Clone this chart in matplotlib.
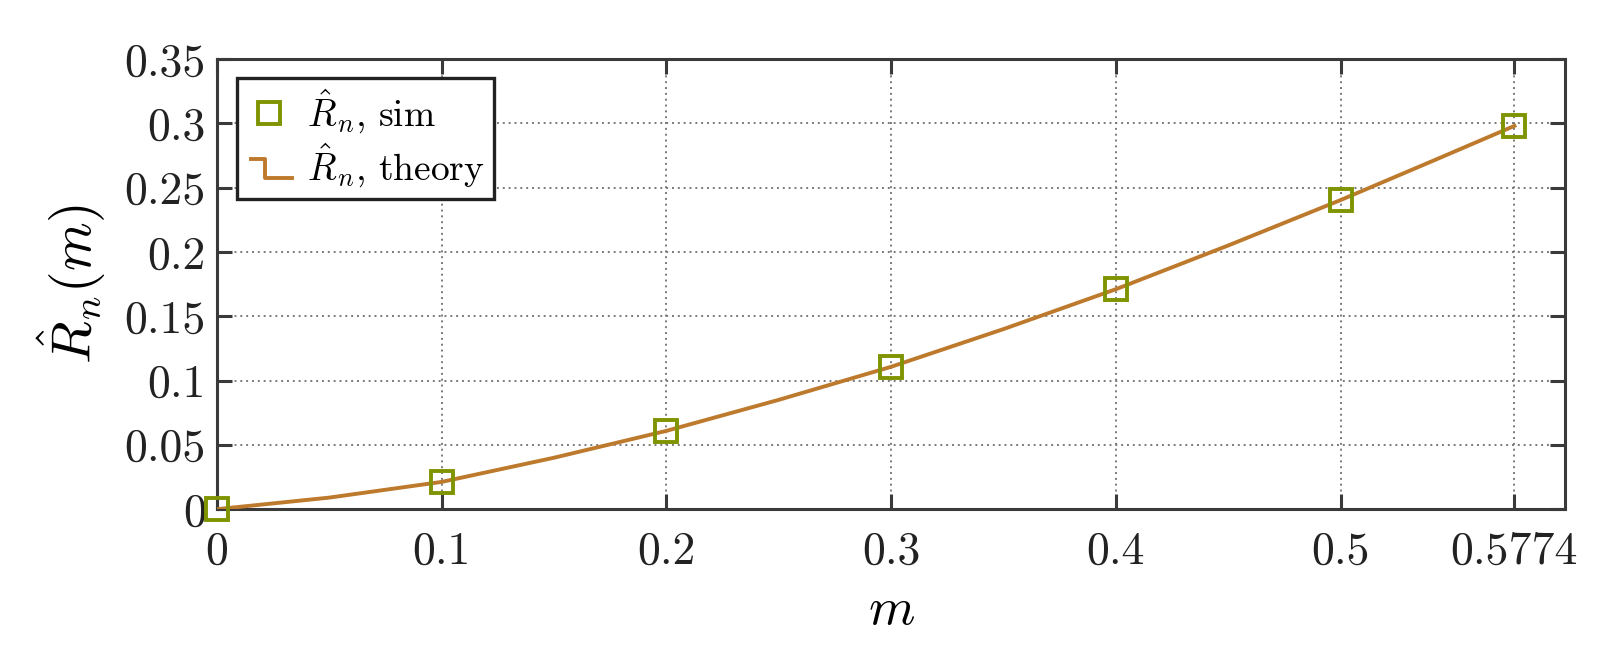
import matplotlib
matplotlib.use('Agg')
import matplotlib.pyplot as plt
import matplotlib as mpl
from matplotlib.legend_handler import HandlerBase
from matplotlib.lines import Line2D

# simulation points
m_sim = [0, 0.1, 0.2, 0.3, 0.4, 0.5, 0.5774]
r_sim = [0, 0.0212, 0.0609, 0.1107, 0.171, 0.2403, 0.298]

# theory curve
m_theory = [0, 0.05, 0.1, 0.15, 0.2, 0.25, 0.3, 0.35, 0.4, 0.45, 0.5, 0.54, 0.5774]
r_theory = [0, 0.009, 0.0212, 0.040, 0.0609, 0.085, 0.1107, 0.140, 0.171, 0.205, 0.2403, 0.270, 0.298]

xticks = [0, 0.1, 0.2, 0.3, 0.4, 0.5, 0.5774]
xticklabels = ['0', '0.1', '0.2', '0.3', '0.4', '0.5', '0.5774']
yticks = [0, 0.05, 0.1, 0.15, 0.2, 0.25, 0.3, 0.35]
yticklabels = ['0', '0.05', '0.1', '0.15', '0.2', '0.25', '0.3', '0.35']

c_sim = '#7f9400'
c_theory = '#bd7a2c'
c_axis = '#3a3a3a'


class HandlerStep(HandlerBase):
    # little step-shaped legend key, like the original
    def create_artists(self, legend, orig_handle, xdescent, ydescent,
                       width, height, fontsize, trans):
        x0 = -xdescent + 0.1 * width
        x1 = -xdescent + 0.4 * width
        x2 = -xdescent + width
        yt = -ydescent + 0.8 * height
        yb = -ydescent + 0.1 * height
        ln = Line2D([x0, x1, x1, x2], [yt, yt, yb, yb],
                    color=orig_handle.get_color(),
                    lw=orig_handle.get_linewidth(), transform=trans)
        return [ln]


def main():
    mpl.rcParams['font.family'] = 'serif'
    mpl.rcParams['font.serif'] = ['cmr10', 'DejaVu Serif']
    mpl.rcParams['mathtext.fontset'] = 'cm'
    mpl.rcParams['axes.unicode_minus'] = False
    mpl.rcParams['axes.formatter.use_mathtext'] = True

    fig = plt.figure(figsize=(16.07, 6.63), dpi=100)
    ax = fig.add_axes([0.135, 0.232, 0.839, 0.679])

    ax.grid(True, color='#7a7a7a', ls=(0, (1, 2)), lw=1.4)
    ax.set_axisbelow(True)

    line_th, = ax.plot(m_theory, r_theory, color=c_theory, lw=2.8,
                       label=r'$\hat{R}_n$, theory', zorder=3)
    pts, = ax.plot(m_sim, r_sim, ls='none', marker='s', ms=16,
                   mfc='none', mec=c_sim, mew=2.8,
                   label=r'$\hat{R}_n$, sim', zorder=4, clip_on=False)

    ax.set_xlim(0, 0.6)
    ax.set_ylim(0, 0.35)
    ax.set_xticks(xticks)
    ax.set_xticklabels(xticklabels)
    ax.set_yticks(yticks)
    ax.set_yticklabels(yticklabels)

    for s in ax.spines.values():
        s.set_color(c_axis)
        s.set_linewidth(2.2)
    ax.tick_params(direction='in', top=True, right=True, length=11,
                   width=2.2, color=c_axis, labelsize=33, labelcolor='#222222')
    ax.tick_params(axis='x', pad=16)
    ax.tick_params(axis='y', pad=8)

    ax.set_xlabel(r'$m$', fontsize=38, labelpad=10)
    ax.set_ylabel(r'$\hat{R}_n(m)$', fontsize=40, labelpad=12)

    leg = ax.legend([pts, line_th], [r'$\hat{R}_n$, sim', r'$\hat{R}_n$, theory'],
                    handler_map={line_th: HandlerStep()},
                    loc='upper left', bbox_to_anchor=(0.015, 0.958),
                    borderaxespad=0, fontsize=27, frameon=True, fancybox=False,
                    handlelength=1.2, handletextpad=0.4, borderpad=0.25,
                    labelspacing=0.15)
    leg.get_frame().set_edgecolor('#222222')
    leg.get_frame().set_linewidth(2.4)
    leg.get_frame().set_alpha(1)

    fig.savefig('out.png', dpi=100)


main()
